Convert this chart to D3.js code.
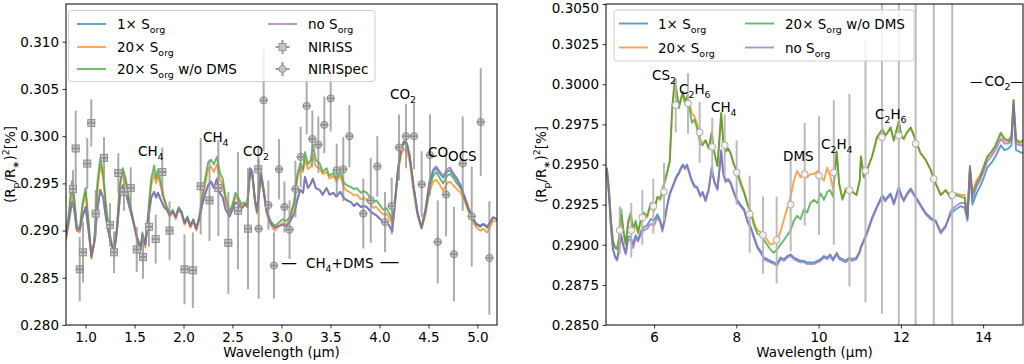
<!DOCTYPE html>
<html><head><meta charset="utf-8">
<script src="https://cdn.jsdelivr.net/npm/d3@7"></script>
<style>body{margin:0;background:#fff} text{font-family:"DejaVu Sans",sans-serif;fill:#000}</style>
</head><body><svg id="c" width="1024" height="364"></svg>
<script>
// ---------------- LEFT PANEL DATA (NIRISS + NIRSpec range) ----------------
const wlL = [0.80,0.83,0.86,0.88,0.91,0.94,0.97,1.00,1.03,1.06,1.09,1.12,1.15,1.18,1.21,1.25,1.29,1.32,1.35,1.38,1.41,1.44,1.48,1.52,1.56,1.58,1.61,1.64,1.67,1.70,1.72,1.74,1.77,1.80,1.83,1.86,1.89,1.92,1.95,1.98,2.01,2.04,2.07,2.10,2.13,2.16,2.19,2.22,2.25,2.28,2.31,2.34,2.37,2.40,2.43,2.47,2.50,2.53,2.56,2.59,2.62,2.65,2.68,2.70,2.73,2.75,2.79,2.82,2.85,2.89,2.93,2.97,3.01,3.05,3.09,3.13,3.16,3.19,3.22,3.24,3.27,3.30,3.32,3.35,3.39,3.42,3.46,3.49,3.53,3.56,3.60,3.64,3.67,3.71,3.74,3.77,3.81,3.84,3.87,3.91,3.94,3.97,4.01,4.04,4.07,4.10,4.13,4.16,4.19,4.22,4.25,4.28,4.31,4.35,4.39,4.43,4.47,4.51,4.55,4.58,4.62,4.65,4.69,4.72,4.76,4.79,4.83,4.87,4.91,4.95,4.99,5.03,5.06,5.10,5.13,5.16,5.20];
const left20xNoDMS = [0.2898,0.2920,0.2952,0.2940,0.2905,0.2902,0.2930,0.2945,0.2910,0.2872,0.2890,0.2950,0.2977,0.2960,0.2925,0.2895,0.2876,0.2905,0.2950,0.2966,0.2955,0.2935,0.2915,0.2895,0.2880,0.2898,0.2885,0.2920,0.2955,0.2969,0.2955,0.2965,0.2950,0.2935,0.2925,0.2918,0.2922,0.2915,0.2925,0.2920,0.2908,0.2915,0.2905,0.2912,0.2902,0.2915,0.2935,0.2955,0.2972,0.2975,0.2970,0.2978,0.2962,0.2955,0.2935,0.2920,0.2928,0.2940,0.2935,0.2928,0.2930,0.2925,0.2962,0.2960,0.2930,0.2920,0.2958,0.2940,0.2920,0.2910,0.2905,0.2908,0.2912,0.2910,0.2915,0.2932,0.2958,0.2971,0.2965,0.2983,0.2970,0.2975,0.2991,0.2975,0.2971,0.2962,0.2966,0.2958,0.2961,0.2955,0.2962,0.2950,0.2948,0.2946,0.2944,0.2945,0.2940,0.2942,0.2940,0.2935,0.2930,0.2932,0.2926,0.2922,0.2924,0.2918,0.2912,0.2935,0.2965,0.2985,0.2993,0.2990,0.2978,0.2945,0.2918,0.2903,0.2920,0.2945,0.2958,0.2962,0.2955,0.2950,0.2958,0.2960,0.2955,0.2950,0.2945,0.2935,0.2922,0.2913,0.2906,0.2904,0.2907,0.2903,0.2908,0.2914,0.2912];
const left20x = [0.2890,0.2912,0.2945,0.2935,0.2900,0.2898,0.2925,0.2940,0.2905,0.2870,0.2888,0.2940,0.2970,0.2955,0.2920,0.2892,0.2874,0.2900,0.2945,0.2962,0.2950,0.2932,0.2912,0.2892,0.2877,0.2895,0.2882,0.2915,0.2948,0.2960,0.2950,0.2958,0.2945,0.2932,0.2922,0.2915,0.2920,0.2912,0.2922,0.2918,0.2906,0.2912,0.2903,0.2910,0.2900,0.2912,0.2930,0.2948,0.2965,0.2968,0.2962,0.2970,0.2955,0.2948,0.2930,0.2917,0.2925,0.2936,0.2932,0.2925,0.2928,0.2925,0.2962,0.2960,0.2930,0.2918,0.2957,0.2938,0.2917,0.2906,0.2900,0.2904,0.2908,0.2906,0.2912,0.2928,0.2955,0.2966,0.2962,0.2975,0.2965,0.2968,0.2980,0.2968,0.2966,0.2960,0.2962,0.2955,0.2958,0.2952,0.2958,0.2945,0.2942,0.2940,0.2937,0.2938,0.2933,0.2935,0.2932,0.2928,0.2924,0.2925,0.2920,0.2917,0.2918,0.2913,0.2908,0.2932,0.2962,0.2980,0.2987,0.2984,0.2972,0.2940,0.2915,0.2902,0.2917,0.2940,0.2952,0.2954,0.2948,0.2942,0.2950,0.2952,0.2947,0.2944,0.2940,0.2931,0.2920,0.2910,0.2903,0.2900,0.2902,0.2898,0.2904,0.2910,0.2910];
const left1x = [0.2892,0.2910,0.2930,0.2925,0.2900,0.2900,0.2915,0.2925,0.2900,0.2873,0.2888,0.2922,0.2943,0.2935,0.2912,0.2890,0.2876,0.2900,0.2935,0.2948,0.2940,0.2928,0.2912,0.2895,0.2880,0.2895,0.2886,0.2912,0.2935,0.2941,0.2935,0.2940,0.2932,0.2925,0.2922,0.2916,0.2920,0.2914,0.2923,0.2919,0.2908,0.2913,0.2905,0.2911,0.2902,0.2912,0.2927,0.2938,0.2948,0.2952,0.2945,0.2955,0.2940,0.2935,0.2922,0.2915,0.2922,0.2930,0.2928,0.2923,0.2927,0.2928,0.2966,0.2963,0.2932,0.2922,0.2962,0.2942,0.2920,0.2908,0.2903,0.2905,0.2906,0.2905,0.2910,0.2918,0.2932,0.2943,0.2940,0.2957,0.2945,0.2950,0.2955,0.2945,0.2943,0.2938,0.2945,0.2938,0.2940,0.2936,0.2941,0.2934,0.2932,0.2930,0.2926,0.2929,0.2925,0.2926,0.2925,0.2920,0.2918,0.2916,0.2912,0.2908,0.2910,0.2905,0.2899,0.2930,0.2965,0.2986,0.2994,0.2992,0.2978,0.2945,0.2918,0.2903,0.2922,0.2950,0.2963,0.2966,0.2960,0.2956,0.2962,0.2964,0.2958,0.2954,0.2946,0.2935,0.2923,0.2913,0.2907,0.2905,0.2907,0.2904,0.2909,0.2914,0.2912];
const leftNo = [0.2893,0.2910,0.2930,0.2926,0.2902,0.2901,0.2915,0.2925,0.2900,0.2873,0.2888,0.2922,0.2943,0.2935,0.2912,0.2890,0.2876,0.2900,0.2935,0.2948,0.2940,0.2928,0.2912,0.2895,0.2880,0.2895,0.2886,0.2912,0.2935,0.2941,0.2935,0.2940,0.2932,0.2925,0.2922,0.2916,0.2920,0.2914,0.2923,0.2919,0.2908,0.2913,0.2905,0.2911,0.2902,0.2912,0.2927,0.2938,0.2948,0.2952,0.2945,0.2955,0.2940,0.2935,0.2922,0.2915,0.2922,0.2930,0.2928,0.2923,0.2927,0.2928,0.2966,0.2963,0.2932,0.2922,0.2962,0.2942,0.2920,0.2908,0.2903,0.2905,0.2906,0.2905,0.2910,0.2918,0.2932,0.2943,0.2940,0.2957,0.2945,0.2950,0.2955,0.2945,0.2943,0.2938,0.2945,0.2938,0.2940,0.2936,0.2941,0.2934,0.2932,0.2930,0.2926,0.2929,0.2925,0.2926,0.2925,0.2920,0.2918,0.2916,0.2912,0.2908,0.2910,0.2905,0.2899,0.2930,0.2965,0.2987,0.2995,0.2993,0.2979,0.2946,0.2918,0.2903,0.2923,0.2952,0.2965,0.2968,0.2962,0.2958,0.2965,0.2967,0.2960,0.2956,0.2948,0.2936,0.2924,0.2914,0.2907,0.2905,0.2907,0.2904,0.2909,0.2914,0.2912];

const nirissWl  = [0.871,0.899,0.940,0.974,1.017,1.058,1.103,1.188,1.249,1.290,1.334,1.392,1.461,1.522,1.586,1.647,1.716,1.783,1.857,2.010,2.095,2.175,2.265,2.355,2.457,2.556,2.658,2.763];
const nirissVal = [0.2944,0.2987,0.2859,0.2877,0.2971,0.3014,0.2918,0.2977,0.2906,0.2877,0.2961,0.2941,0.2945,0.2880,0.2872,0.2904,0.2891,0.2962,0.2900,0.2859,0.2858,0.2947,0.2932,0.2945,0.2887,0.2921,0.2902,0.2965];
const nirissErr = [0.0020,0.0040,0.0034,0.0032,0.0027,0.0025,0.0025,0.0022,0.0023,0.0022,0.0021,0.0020,0.0022,0.0024,0.0023,0.0021,0.0026,0.0026,0.0031,0.0037,0.0040,0.0051,0.0043,0.0051,0.0054,0.0062,0.0064,0.0025];

const nirspecWl  = [2.767,2.818,2.866,2.923,2.975,3.030,3.082,3.142,3.196,3.257,3.315,3.376,3.437,3.502,3.564,3.631,3.693,3.835,3.911,3.978,4.057,4.125,4.200,4.271,4.353,4.431,4.516,4.595,4.680,4.761,4.850,4.942,5.034,5.122];
const nirspecVal = [0.2902,0.3038,0.2927,0.2863,0.2965,0.2925,0.2901,0.2944,0.2978,0.3032,0.2997,0.2991,0.3012,0.3040,0.2964,0.2965,0.3000,0.2918,0.2932,0.2968,0.2909,0.2926,0.2988,0.3000,0.3000,0.2949,0.2980,0.2888,0.2938,0.2875,0.2971,0.2915,0.3015,0.2871];
const nirspecErr = [0.0074,0.0054,0.0026,0.0035,0.0032,0.0027,0.0031,0.0030,0.0032,0.0030,0.0030,0.0030,0.0030,0.0035,0.0028,0.0034,0.0033,0.0037,0.0045,0.0032,0.0032,0.0030,0.0035,0.0034,0.0035,0.0035,0.0043,0.0044,0.0044,0.0050,0.0050,0.0053,0.0057,0.0060];

// ---------------- RIGHT PANEL DATA (MIRI range) ----------------
const wlR = [4.85,4.90,4.95,5.00,5.05,5.10,5.15,5.20,5.25,5.31,5.37,5.43,5.49,5.55,5.61,5.67,5.75,5.83,5.92,6.00,6.08,6.15,6.20,6.25,6.32,6.38,6.44,6.50,6.55,6.60,6.65,6.70,6.75,6.80,6.86,6.92,6.98,7.05,7.12,7.18,7.25,7.33,7.40,7.46,7.54,7.60,7.63,7.68,7.74,7.80,7.86,7.94,8.02,8.10,8.19,8.27,8.35,8.43,8.51,8.59,8.67,8.75,8.83,8.91,8.99,9.07,9.16,9.24,9.32,9.40,9.48,9.56,9.64,9.72,9.80,9.89,9.97,10.05,10.13,10.21,10.28,10.35,10.44,10.50,10.58,10.66,10.74,10.82,10.92,11.00,11.03,11.10,11.18,11.30,11.42,11.55,11.62,11.68,11.75,11.83,11.95,12.01,12.07,12.15,12.24,12.36,12.48,12.60,12.72,12.85,12.97,13.09,13.21,13.33,13.45,13.55,13.62,13.68,13.74,13.84,13.94,14.02,14.10,14.20,14.30,14.43,14.52,14.62,14.69,14.74,14.80,14.88,14.97];
const right20xNoDMS = [0.2948,0.2935,0.2915,0.2902,0.2898,0.2897,0.2905,0.2922,0.2910,0.2900,0.2915,0.2920,0.2910,0.2915,0.2908,0.2915,0.2920,0.2918,0.2926,0.2922,0.2930,0.2928,0.2932,0.2938,0.2945,0.2952,0.2985,0.3002,0.2995,0.2985,0.2990,0.2995,0.2988,0.2992,0.2985,0.2976,0.2978,0.2972,0.2963,0.2962,0.2965,0.2960,0.2970,0.2958,0.2949,0.2970,0.2982,0.2965,0.2958,0.2960,0.2957,0.2950,0.2945,0.2938,0.2932,0.2925,0.2920,0.2912,0.2907,0.2906,0.2903,0.2900,0.2897,0.2895,0.2897,0.2900,0.2903,0.2906,0.2909,0.2915,0.2918,0.2916,0.2922,0.2920,0.2926,0.2928,0.2926,0.2932,0.2928,0.2933,0.2934,0.2930,0.2958,0.2938,0.2928,0.2934,0.2932,0.2933,0.2931,0.2940,0.2955,0.2942,0.2947,0.2955,0.2967,0.2972,0.2968,0.2970,0.2973,0.2965,0.2977,0.2968,0.2966,0.2970,0.2973,0.2965,0.2957,0.2953,0.2947,0.2938,0.2931,0.2934,0.2929,0.2931,0.2930,0.2929,0.2917,0.2949,0.2931,0.2938,0.2943,0.2949,0.2955,0.2958,0.2962,0.2970,0.2966,0.2965,0.2968,0.2990,0.2966,0.2964,0.2965];
const right20x = [0.2948,0.2935,0.2915,0.2902,0.2899,0.2898,0.2903,0.2918,0.2908,0.2900,0.2913,0.2918,0.2908,0.2913,0.2907,0.2914,0.2919,0.2917,0.2925,0.2921,0.2929,0.2930,0.2934,0.2940,0.2946,0.2952,0.2985,0.3002,0.2995,0.2986,0.2991,0.2995,0.2989,0.2993,0.2988,0.2982,0.2980,0.2975,0.2966,0.2963,0.2965,0.2960,0.2970,0.2958,0.2949,0.2970,0.2982,0.2965,0.2958,0.2960,0.2957,0.2950,0.2946,0.2940,0.2933,0.2926,0.2921,0.2914,0.2909,0.2908,0.2906,0.2903,0.2900,0.2901,0.2903,0.2908,0.2916,0.2923,0.2930,0.2940,0.2946,0.2942,0.2946,0.2942,0.2944,0.2944,0.2946,0.2942,0.2940,0.2948,0.2943,0.2935,0.2958,0.2938,0.2929,0.2935,0.2933,0.2933,0.2931,0.2940,0.2955,0.2942,0.2947,0.2955,0.2967,0.2972,0.2968,0.2970,0.2973,0.2965,0.2977,0.2968,0.2966,0.2970,0.2973,0.2965,0.2957,0.2953,0.2947,0.2938,0.2931,0.2934,0.2930,0.2932,0.2931,0.2931,0.2918,0.2949,0.2933,0.2940,0.2944,0.2949,0.2954,0.2957,0.2961,0.2969,0.2965,0.2964,0.2967,0.2990,0.2965,0.2963,0.2964];
const right1x = [0.2946,0.2932,0.2912,0.2897,0.2893,0.2891,0.2898,0.2906,0.2900,0.2895,0.2905,0.2905,0.2900,0.2906,0.2903,0.2908,0.2911,0.2912,0.2916,0.2915,0.2919,0.2915,0.2910,0.2915,0.2925,0.2932,0.2936,0.2940,0.2943,0.2945,0.2948,0.2950,0.2948,0.2950,0.2945,0.2940,0.2937,0.2936,0.2931,0.2933,0.2928,0.2935,0.2948,0.2940,0.2935,0.2950,0.2959,0.2945,0.2940,0.2941,0.2939,0.2933,0.2928,0.2925,0.2922,0.2915,0.2911,0.2905,0.2899,0.2896,0.2892,0.2891,0.2890,0.2889,0.2888,0.2892,0.2891,0.2893,0.2894,0.2892,0.2891,0.2890,0.2890,0.2889,0.2889,0.2889,0.2890,0.2891,0.2893,0.2892,0.2894,0.2891,0.2895,0.2892,0.2891,0.2890,0.2892,0.2891,0.2892,0.2896,0.2899,0.2903,0.2908,0.2917,0.2924,0.2931,0.2928,0.2930,0.2932,0.2926,0.2936,0.2931,0.2928,0.2932,0.2935,0.2930,0.2925,0.2920,0.2917,0.2915,0.2908,0.2912,0.2919,0.2922,0.2924,0.2923,0.2915,0.2947,0.2925,0.2932,0.2937,0.2942,0.2948,0.2951,0.2955,0.2962,0.2959,0.2960,0.2962,0.2987,0.2959,0.2958,0.2957];
const rightNo = [0.2946,0.2932,0.2912,0.2897,0.2892,0.2890,0.2897,0.2905,0.2899,0.2894,0.2903,0.2903,0.2898,0.2904,0.2902,0.2906,0.2909,0.2910,0.2913,0.2912,0.2917,0.2914,0.2908,0.2914,0.2924,0.2931,0.2935,0.2939,0.2942,0.2944,0.2947,0.2949,0.2947,0.2949,0.2944,0.2939,0.2936,0.2935,0.2930,0.2932,0.2927,0.2934,0.2947,0.2939,0.2934,0.2949,0.2958,0.2944,0.2939,0.2940,0.2938,0.2932,0.2927,0.2924,0.2921,0.2914,0.2910,0.2904,0.2898,0.2895,0.2891,0.2890,0.2889,0.2888,0.2887,0.2891,0.2890,0.2892,0.2893,0.2891,0.2890,0.2889,0.2889,0.2888,0.2888,0.2888,0.2889,0.2890,0.2892,0.2891,0.2893,0.2890,0.2894,0.2891,0.2890,0.2889,0.2891,0.2890,0.2891,0.2895,0.2898,0.2902,0.2907,0.2916,0.2923,0.2930,0.2927,0.2929,0.2931,0.2925,0.2935,0.2930,0.2927,0.2931,0.2934,0.2929,0.2924,0.2919,0.2916,0.2914,0.2907,0.2911,0.2921,0.2924,0.2926,0.2926,0.2917,0.2948,0.2928,0.2936,0.2941,0.2946,0.2952,0.2955,0.2959,0.2966,0.2963,0.2963,0.2965,0.2988,0.2963,0.2962,0.2962];

const miriWl  = [5.163,5.445,5.713,5.98,6.24,6.525,6.824,7.108,7.414,7.716,8.007,8.324,8.647,8.98,9.32,9.661,10.01,10.37,10.75,11.14,11.54,11.95,12.36,12.80,13.25];
const miriVal = [0.2909,0.2909,0.2917,0.2924,0.2933,0.2987,0.2988,0.2970,0.2961,0.2962,0.2945,0.2919,0.2906,0.2903,0.2925,0.2944,0.2943,0.2945,0.2934,0.2946,0.2967,0.2968,0.2963,0.2941,0.2931];
const miriErr = [0.0015,0.0017,0.0017,0.0017,0.0018,0.0017,0.0019,0.0019,0.0018,0.0019,0.0020,0.0024,0.0024,0.0027,0.0029,0.0032,0.0037,0.0045,0.0060,0.0082,0.0110,0.0118,0.0140,0.0160,0.0140];

// ---------------- TICKS ----------------
const xTicksL = [1.0,1.5,2.0,2.5,3.0,3.5,4.0,4.5,5.0];
const yTicksL = [0.280,0.285,0.290,0.295,0.300,0.305,0.310];
const xTicksR = [6,8,10,12,14];
const yTicksR = [0.2850,0.2875,0.2900,0.2925,0.2950,0.2975,0.3000,0.3025,0.3050];

// ---------------- DRAWING ----------------
const svg = d3.select("#c");
const COL = {b:"#1f77b4", o:"#ff7f0e", g:"#2ca02c", p:"#9467bd"};
const FS = 13.5;

function rich(sel, segs){
  // segs: [text, mode, opts] mode: 0 normal, 1 sub, 2 sup
  let cur = 0;
  segs.forEach(([t,m,op])=>{
    const target = m===1?4:(m===2?-6:0);
    const ts = sel.append("tspan").attr("dy", target-cur).text(t);
    if(m) ts.attr("font-size", (FS*0.7)+"px");
    if(op && op.fs) ts.attr("font-size", op.fs+"px");
    if(op && op.dx) ts.attr("dx", op.dx);
    cur = target;
  });
}

function panel(o){
  const g = svg.append("g");
  const x = d3.scaleLinear().domain(o.xd).range([o.x0,o.x1]);
  const y = d3.scaleLinear().domain(o.yd).range([o.y1,o.y0]);
  const cid = "clip"+o.id;
  svg.append("clipPath").attr("id",cid).append("rect")
    .attr("x",o.x0).attr("y",o.y0).attr("width",o.x1-o.x0).attr("height",o.y1-o.y0);
  const body = g.append("g").attr("clip-path",`url(#${cid})`);
  const line = d3.line().x(d=>x(d[0])).y(d=>y(d[1]));
  o.series.forEach(s=>{
    body.append("path").datum(o.wl.map((w,i)=>[w,s.v[i]]))
      .attr("d",line).attr("fill","none").attr("stroke",s.c)
      .attr("stroke-width",1.9).attr("stroke-opacity",0.72).attr("stroke-linejoin","round");
  });
  // error bars
  o.err.forEach(e=>{
    const gg = body.append("g");
    e.wl.forEach((w,i)=>{
      const cx=x(w), cy=y(e.v[i]);
      gg.append("line").attr("x1",cx).attr("x2",cx).attr("y1",y(e.v[i]-e.e[i])).attr("y2",y(e.v[i]+e.e[i]))
        .attr("stroke",e.bar).attr("stroke-width",2).attr("stroke-opacity",e.op);
      if(e.shape==="sq"){
        gg.append("rect").attr("x",cx-3.5).attr("y",cy-3.5).attr("width",7).attr("height",7)
          .attr("fill",e.face).attr("stroke",e.edge).attr("stroke-width",1);
      } else {
        gg.append("circle").attr("cx",cx).attr("cy",cy).attr("r",e.r)
          .attr("fill",e.face).attr("stroke",e.edge).attr("stroke-width",1);
      }
      if(e.cross){
        gg.append("line").attr("x1",cx-4).attr("x2",cx+4).attr("y1",cy).attr("y2",cy)
          .attr("stroke",e.bar).attr("stroke-width",1.6);
        gg.append("line").attr("x1",cx).attr("x2",cx).attr("y1",cy-4).attr("y2",cy+4)
          .attr("stroke",e.bar).attr("stroke-width",1.6);
      }
    });
  });
  // axes
  const ax = g.append("g").attr("transform",`translate(0,${o.y1})`)
    .call(d3.axisBottom(x).tickValues(o.xt).tickSize(3.5).tickPadding(3.5).tickFormat(o.xf));
  const ay = g.append("g").attr("transform",`translate(${o.x0},0)`)
    .call(d3.axisLeft(y).tickValues(o.yt).tickSize(3.5).tickPadding(3.5).tickFormat(o.yf));
  [ax,ay].forEach(a=>{
    a.select(".domain").remove();
    a.selectAll("text").attr("font-size",FS+"px").attr("font-family","DejaVu Sans").attr("fill","#000");
    a.selectAll("line").attr("stroke","#000").attr("stroke-width",0.8);
  });
  // keep the topmost y tick label inside the picture
  ay.selectAll(".tick text").filter(d=>y(d)<8).attr("dy","0.62em");
  g.append("rect").attr("x",o.x0).attr("y",o.y0).attr("width",o.x1-o.x0).attr("height",o.y1-o.y0)
    .attr("fill","none").attr("stroke","#000").attr("stroke-width",1);
  // labels
  g.append("text").attr("x",(o.x0+o.x1)/2).attr("y",357).attr("text-anchor","middle")
    .attr("font-size",FS+"px").text("Wavelength (µm)");
  const yl = g.append("text").attr("transform",`translate(${o.ylx},${(o.y0+o.y1)/2}) rotate(-90)`)
    .attr("text-anchor","middle").attr("font-size",FS+"px");
  rich(yl,[["(R",0],["p",1],["/R",0],["∗",1],[")",0],["2",2],["[%]",0]]);
  // annotations
  o.ann.forEach(a=>{
    const t = g.append("text").attr("x",a[0]).attr("y",a[1]).attr("font-size",FS+"px");
    rich(t,a[2]);
  });
  // legend
  const L = o.leg;
  g.append("rect").attr("x",L.x).attr("y",L.y).attr("width",L.w).attr("height",L.h).attr("rx",3)
    .attr("fill","#fff").attr("fill-opacity",0.8).attr("stroke","#d0d0d0").attr("stroke-width",1);
  L.items.forEach(it=>{
    if(it.c){
      g.append("line").attr("x1",it.hx).attr("x2",it.hx+29).attr("y1",it.y-5).attr("y2",it.y-5)
        .attr("stroke",it.c).attr("stroke-width",1.9).attr("stroke-opacity",0.72);
    } else {
      const cx=it.hx+14.5, cy=it.y-5;
      g.append("line").attr("x1",cx).attr("x2",cx).attr("y1",cy-7).attr("y2",cy+7).attr("stroke","#999").attr("stroke-width",2);
      g.append("line").attr("x1",cx-7).attr("x2",cx+7).attr("y1",cy).attr("y2",cy).attr("stroke","#999").attr("stroke-width",2);
      if(it.shape==="sq") g.append("rect").attr("x",cx-3.5).attr("y",cy-3.5).attr("width",7).attr("height",7).attr("fill","#c4c4c4").attr("stroke","#999");
      else g.append("circle").attr("cx",cx).attr("cy",cy).attr("r",3.5).attr("fill","#c4c4c4").attr("stroke","#999");
    }
    const t = g.append("text").attr("x",it.tx).attr("y",it.y).attr("font-size",FS+"px");
    rich(t,it.label);
  });
}

const S = "org";
panel({
  id:"L", x0:66, x1:497, y0:4, y1:325, xd:[0.8,5.2], yd:[0.280,0.314],
  xt:xTicksL, yt:yTicksL, xf:d3.format(".1f"), yf:d3.format(".3f"), ylx:15,
  wl:wlL,
  series:[{v:left1x,c:COL.b},{v:left20x,c:COL.o},{v:left20xNoDMS,c:COL.g},{v:leftNo,c:COL.p}],
  err:[
    {wl:nirissWl,v:nirissVal,e:nirissErr,shape:"sq",bar:"#8f8f8f",op:0.75,face:"#cccccc",edge:"#8f8f8f",cross:true},
    {wl:nirspecWl,v:nirspecVal,e:nirspecErr,shape:"ci",r:3.6,bar:"#8f8f8f",op:0.75,face:"#cccccc",edge:"#8f8f8f",cross:true}
  ],
  ann:[
    [138,156,[["CH",0],["4",1]]],
    [203,141.5,[["CH",0],["4",1]]],
    [243,156,[["CO",0],["2",1]]],
    [390,99,[["CO",0],["2",1]]],
    [428,156.5,[["CO",0]]],
    [448,160.5,[["OCS",0]]],
    [281,268,[["—",0,{fs:16}],["CH",0,{dx:9}],["4",1],["+DMS",0],["—",0,{fs:20,dx:6}]]]
  ],
  leg:{x:68.5,y:10.5,w:306.5,h:71,items:[
    {c:COL.b,hx:77,tx:117,y:29,label:[["1× S",0],[S,1]]},
    {c:COL.o,hx:77,tx:117,y:52,label:[["20× S",0],[S,1]]},
    {c:COL.g,hx:77,tx:117,y:74,label:[["20× S",0],[S,1],[" w/o DMS",0]]},
    {c:COL.p,hx:268,tx:308,y:29,label:[["no S",0],[S,1]]},
    {shape:"sq",hx:268,tx:308,y:52,label:[["NIRISS",0]]},
    {shape:"ci",hx:268,tx:308,y:74,label:[["NIRISpec",0]]}
  ]}
});

panel({
  id:"R", x0:606, x1:1023, y0:4, y1:325, xd:[4.83,14.97], yd:[0.285,0.305],
  xt:xTicksR, yt:yTicksR, xf:d3.format("d"), yf:d3.format(".4f"), ylx:546,
  wl:wlR,
  series:[{v:right1x,c:COL.b},{v:right20x,c:COL.o},{v:right20xNoDMS,c:COL.g},{v:rightNo,c:COL.p}],
  err:[
    {wl:miriWl,v:miriVal,e:miriErr,shape:"ci",r:3.4,bar:"#b4b4b4",op:0.9,face:"#f2f2f2",edge:"#a8a8a8",cross:false}
  ],
  ann:[
    [652,80,[["CS",0],["2",1]]],
    [679,94,[["C",0],["2",1],["H",0],["6",1]]],
    [711,111.5,[["CH",0],["4",1]]],
    [783,160.5,[["DMS",0]]],
    [821,149,[["C",0],["2",1],["H",0],["4",1]]],
    [875,119,[["C",0],["2",1],["H",0],["6",1]]],
    [970,86,[["—",0,{fs:12.5}],["CO",0,{dx:2}],["2",1],["—",0,{fs:12.5}]]]
  ],
  leg:{x:614,y:10,w:300,h:51,items:[
    {c:COL.b,hx:619,tx:658,y:28.5,label:[["1× S",0],[S,1]]},
    {c:COL.o,hx:619,tx:658,y:52.5,label:[["20× S",0],[S,1]]},
    {c:COL.g,hx:745,tx:785,y:28.5,label:[["20× S",0],[S,1],[" w/o DMS",0]]},
    {c:COL.p,hx:745,tx:785,y:52.5,label:[["no S",0],[S,1]]}
  ]}
});
</script></body></html>
